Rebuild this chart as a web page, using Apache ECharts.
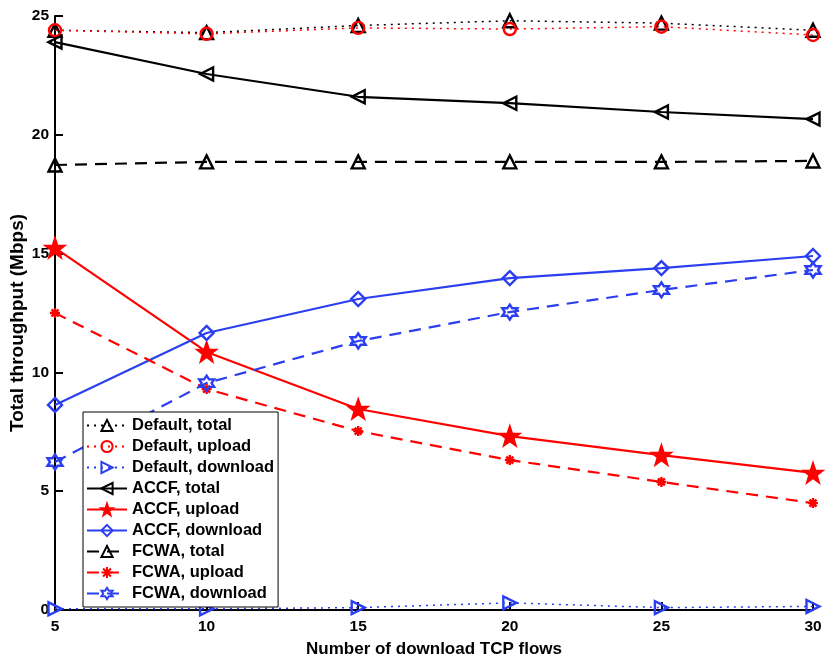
<!DOCTYPE html>
<html>
<head>
<meta charset="utf-8">
<script src="https://cdn.jsdelivr.net/npm/echarts@6/dist/echarts.min.js"></script>
<style>html,body{margin:0;padding:0;background:#fff}#c{width:830px;height:661px}</style>
</head>
<body>
<div id="c"></div>
<script>
var flows = [5, 10, 15, 20, 25, 30];
var defaultTotal = [24.4, 24.3, 24.6, 24.8, 24.7, 24.4];
var defaultUpload = [24.4, 24.25, 24.5, 24.45, 24.55, 24.2];
var defaultDownload = [0.05, 0.05, 0.1, 0.3, 0.1, 0.15];
var accfTotal = [23.9, 22.56, 21.6, 21.33, 20.96, 20.66];
var accfUpload = [15.24, 10.86, 8.46, 7.32, 6.52, 5.77];
var accfDownload = [8.63, 11.66, 13.09, 13.97, 14.39, 14.9];
var fcwaTotal = [18.73, 18.86, 18.86, 18.86, 18.86, 18.9];
var fcwaUpload = [12.5, 9.3, 7.53, 6.31, 5.39, 4.5];
var fcwaDownload = [6.23, 9.55, 11.32, 12.54, 13.47, 14.31];
var yTicks = [0, 5, 10, 15, 20, 25];

function pts(arr){ return flows.map(function(x,i){ return [x, arr[i]]; }); }

var STAR = 'path://M0,-10 L2.35,-3.24 L9.51,-3.09 L3.8,1.24 L5.88,8.09 L0,4 L-5.88,8.09 L-3.8,1.24 L-9.51,-3.09 L-2.35,-3.24 Z';
var HEX = 'path://M0,-10 L2.887,-5 L8.66,-5 L5.774,0 L8.66,5 L2.887,5 L0,10 L-2.887,5 L-8.66,5 L-5.774,0 L-8.66,-5 L-2.887,-5 Z';
var AST = 'path://M0,-10 L0,10 M-10,0 L10,0 M-7,-7 L7,7 M-7,7 L7,-7';

function mk(name, data, color, lineType, symbol, size, hollow, rot){
  return {
    name: name, type: 'line', data: pts(data),
    symbol: symbol, symbolSize: size, symbolRotate: rot || 0,
    showAllSymbol: true,
    lineStyle: {color: color, width: lineType === 'dotted' ? 1.5 : 2.2, type: lineType === 'dotted' ? [2,5] : (lineType === 'dashed' ? [12,8] : 'solid')},
    itemStyle: {color: hollow ? 'rgba(255,255,255,0)' : color, borderColor: color, borderWidth: 2.4},
    emphasis: {disabled: true},
    animation: false
  };
}

var FONT = 'Liberation Sans';
var chart = echarts.init(document.getElementById('c'));
chart.setOption({
  animation: false,
  grid: {left: 55, right: 17, top: 16, bottom: 51, containLabel: false, outerBoundsMode: 'none'},
  legend: {
    orient: 'vertical', left: 83, top: 412,
    backgroundColor: '#fff', borderColor: '#000', borderWidth: 1, borderRadius: 0,
    padding: [5, 4, 5, 3], itemGap: 4, itemWidth: 40, itemHeight: 14,
    textStyle: {fontFamily: FONT, fontWeight: 'bold', fontSize: 16.5, lineHeight: 16, color: '#000'},
    data: ['Default, total','Default, upload','Default, download','ACCF, total','ACCF, upload','ACCF, download','FCWA, total','FCWA, upload','FCWA, download']
  },
  xAxis: {
    type: 'value', min: 5, max: 30, interval: 5,
    name: 'Number of download TCP flows', nameLocation: 'middle', nameGap: 31, nameMoveOverlap: false,
    nameTextStyle: {fontFamily: FONT, fontWeight: 'bold', fontSize: 17, color: '#000'},
    axisLine: {onZero: false, lineStyle: {color: '#000', width: 2}},
    axisTick: {inside: true, length: 8, lineStyle: {color: '#000', width: 2}},
    axisLabel: {margin: 9, fontFamily: FONT, fontWeight: 'bold', fontSize: 15.5, color: '#000'},
    splitLine: {show: false}
  },
  yAxis: {
    type: 'value', min: 0, max: 25, interval: 5,
    name: 'Total throughput (Mbps)', nameLocation: 'middle', nameGap: 28, nameMoveOverlap: false,
    nameTextStyle: {fontFamily: FONT, fontWeight: 'bold', fontSize: 19, color: '#000', padding: [0, 20, 0, 0]},
    axisLine: {show: true, onZero: false, lineStyle: {color: '#000', width: 2}},
    axisTick: {show: true, inside: true, length: 8, lineStyle: {color: '#000', width: 2}},
    axisLabel: {margin: 6, fontFamily: FONT, fontWeight: 'bold', fontSize: 15.5, color: '#000',
      formatter: function(v){ return yTicks.indexOf(v) >= 0 ? String(v) : ''; }},
    splitLine: {show: false}
  },
  series: [
    mk('Default, total', defaultTotal, '#000', 'dotted', 'triangle', 13, true),
    mk('Default, upload', defaultUpload, '#ff0000', 'dotted', 'circle', 12, true),
    mk('Default, download', defaultDownload, '#2b3ff0', 'dotted', 'triangle', 13, true, -90),
    mk('ACCF, total', accfTotal, '#000', 'solid', 'triangle', 13, true, 90),
    mk('ACCF, upload', accfUpload, '#ff0000', 'solid', STAR, 18, false),
    mk('ACCF, download', accfDownload, '#2b3ff0', 'solid', 'diamond', 14, true),
    mk('FCWA, total', fcwaTotal, '#000', 'dashed', 'triangle', 13, true),
    mk('FCWA, upload', fcwaUpload, '#ff0000', 'dashed', AST, 10, false),
    mk('FCWA, download', fcwaDownload, '#2b3ff0', 'dashed', HEX, 15, true)
  ]
});
</script>
</body>
</html>
